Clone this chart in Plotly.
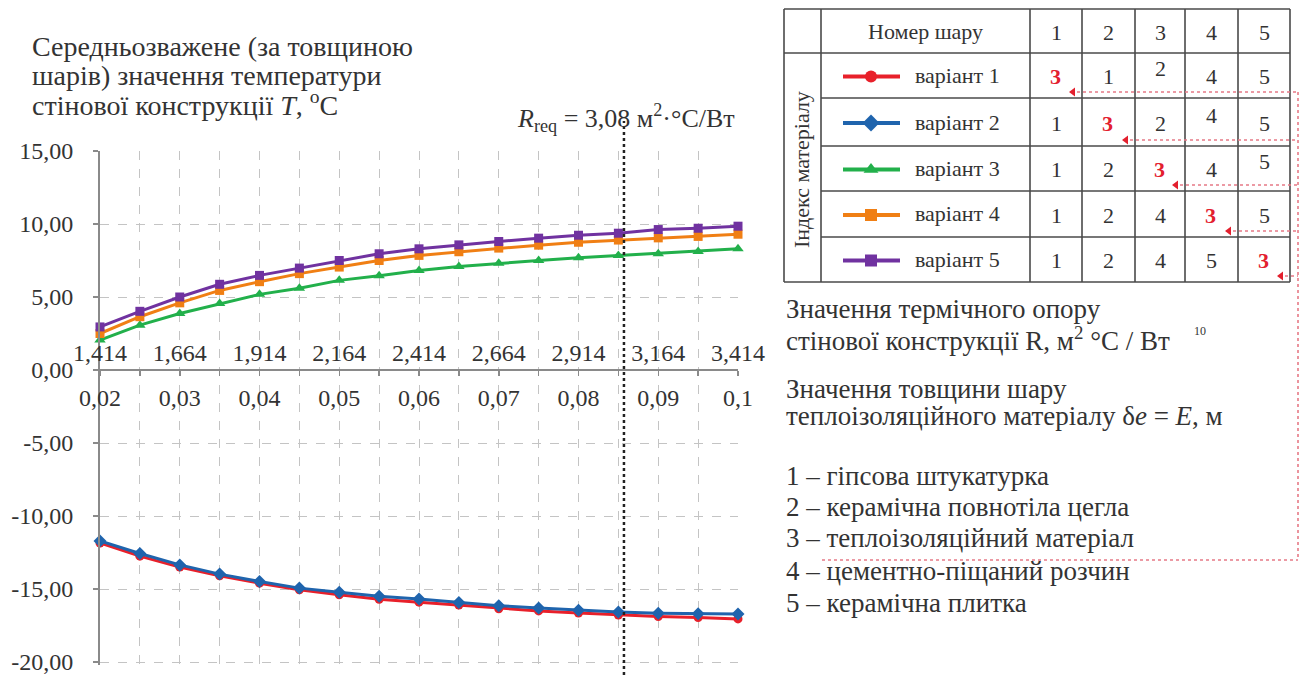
import plotly.graph_objects as go

W, H = 1311, 675

# ---------------- data ----------------
thickness = [0.02, 0.025, 0.03, 0.035, 0.04, 0.045, 0.05, 0.055, 0.06,
             0.065, 0.07, 0.075, 0.08, 0.085, 0.09, 0.095, 0.1]
x_major = [0.02, 0.03, 0.04, 0.05, 0.06, 0.07, 0.08, 0.09, 0.1]
x_major_text = ["0,02", "0,03", "0,04", "0,05", "0,06", "0,07", "0,08", "0,09", "0,1"]
r_text = ["1,414", "1,664", "1,914", "2,164", "2,414", "2,664", "2,914", "3,164", "3,414"]
y_ticks = [15, 10, 5, 0, -5, -10, -15, -20]
y_tick_text = ["15,00", "10,00", "5,00", "0,00", "-5,00", "-10,00", "-15,00", "-20,00"]

variant1 = [-11.85, -12.75, -13.5, -14.1, -14.6, -15.05, -15.4, -15.7, -15.9,
            -16.1, -16.35, -16.5, -16.65, -16.78, -16.88, -16.96, -17.05]
variant2 = [-11.71, -12.57, -13.35, -13.98, -14.49, -14.94, -15.23, -15.5, -15.69,
            -15.92, -16.14, -16.3, -16.45, -16.58, -16.66, -16.7, -16.72]
variant3 = [2.05, 3.07, 3.87, 4.55, 5.18, 5.6, 6.14, 6.45, 6.82,
            7.09, 7.32, 7.5, 7.69, 7.84, 7.96, 8.12, 8.3]
variant4 = [2.5, 3.65, 4.6, 5.45, 6.05, 6.6, 7.05, 7.5, 7.85,
            8.1, 8.35, 8.55, 8.75, 8.9, 9.05, 9.15, 9.3]
variant5 = [2.95, 4.02, 5.0, 5.87, 6.48, 6.98, 7.5, 7.96, 8.3,
            8.57, 8.8, 9.03, 9.23, 9.37, 9.62, 9.71, 9.85]
E_req = 0.0857

variant_names = ["варіант 1", "варіант 2", "варіант 3", "варіант 4", "варіант 5"]
layer_numbers = ["1", "2", "3", "4", "5"]
layer_order = [[3, 1, 2, 4, 5],
               [1, 3, 2, 4, 5],
               [1, 2, 3, 4, 5],
               [1, 2, 4, 3, 5],
               [1, 2, 4, 5, 3]]
materials = ["гіпсова штукатурка", "керамічна повнотіла цегла",
             "теплоізоляційний матеріал", "цементно-піщаний розчин",
             "керамічна плитка"]

# ---------------- styles ----------------
FONT = "Liberation Serif, Times New Roman, serif"
TXT = "#333333"
GRID = "#c4c4c4"
AXIS = "#8a8a8a"
RED_DOT = "#e67a86"
series_style = [
    dict(color="#e8202a", symbol="circle", size=9),
    dict(color="#1f64ad", symbol="diamond", size=10),
    dict(color="#22b04b", symbol="triangle-up", size=10),
    dict(color="#f07f14", symbol="square", size=9),
    dict(color="#7032a0", symbol="square", size=9),
]
series = [variant1, variant2, variant3, variant4, variant5]


def PX(x):
    return x / W


def PY(y):
    return 1 - y / H


y_rng = [-20.2, 15]
px_per_unit = (662 - 151) / 35.0
x_dom = [PX(100), PX(738)]
y_dom = [PY(662 + (-20 - y_rng[0]) * px_per_unit), PY(151)]
p0 = y_dom[0] + (0 - y_rng[0]) / (y_rng[1] - y_rng[0]) * (y_dom[1] - y_dom[0])

fig = go.Figure()

for i in range(5):
    st = series_style[i]
    fig.add_trace(go.Scatter(
        x=thickness, y=series[i], mode="lines+markers", name=variant_names[i],
        line=dict(color=st["color"], width=3),
        marker=dict(color=st["color"], symbol=st["symbol"], size=st["size"]),
        cliponaxis=False, showlegend=False, xaxis="x", yaxis="y"))

# ---------------- table ----------------
col_x = [784, 821, 1030, 1082, 1135, 1185, 1238, 1290]
row_y = [9, 53, 98, 146, 191, 237, 282]
shapes = []
LINE_T = dict(color="#4a4a4a", width=1.6)
for cx in col_x:
    shapes.append(dict(type="line", xref="paper", yref="paper",
                       x0=PX(cx), x1=PX(cx), y0=PY(row_y[0]), y1=PY(row_y[-1]), line=LINE_T))
for k, ry in enumerate(row_y):
    x_start = col_x[0] if k in (0, 1, len(row_y) - 1) else col_x[1]
    shapes.append(dict(type="line", xref="paper", yref="paper",
                       x0=PX(x_start), x1=PX(col_x[-1]), y0=PY(ry), y1=PY(ry), line=LINE_T))

annotations = []


def txt(x, y, s, size, xanchor="center", yanchor="middle", color=TXT, angle=0):
    annotations.append(dict(x=PX(x), y=PY(y), xref="paper", yref="paper", text=s,
                            showarrow=False, xanchor=xanchor, yanchor=yanchor,
                            textangle=angle, font=dict(family=FONT, size=size, color=color)))


TS = 22
txt((col_x[1] + col_x[2]) / 2, (row_y[0] + row_y[1]) / 2, "Номер шару", TS)
for j, n in enumerate(layer_numbers):
    txt((col_x[j + 2] + col_x[j + 3]) / 2, (row_y[0] + row_y[1]) / 2 + 1, n, TS)
txt((col_x[0] + col_x[1]) / 2 - 1, (row_y[1] + row_y[-1]) / 2 + 2, "Індекс матеріалу", TS, angle=-90)

arrow_x, arrow_y = [], []
for r in range(5):
    yc = (row_y[r + 1] + row_y[r + 2]) / 2
    red_col = layer_order[r].index(3)
    for j, v in enumerate(layer_order[r]):
        xc = (col_x[j + 2] + col_x[j + 3]) / 2
        if j == red_col:
            txt(xc - 1, yc + 1, "<b>3</b>", TS, color="#e3202e")
        else:
            dy = -7 if j == red_col + 2 else 1
            txt(xc, yc + dy, str(v), TS)
    txt(913, yc, variant_names[r], TS, xanchor="left")
    st = series_style[r]
    fig.add_trace(go.Scatter(x=[843, 900], y=[yc + 1, yc + 1], mode="lines",
                             line=dict(color=st["color"], width=4),
                             xaxis="x3", yaxis="y3", showlegend=False, hoverinfo="skip"))
    fig.add_trace(go.Scatter(x=[871], y=[yc + 1], mode="markers",
                             marker=dict(color=st["color"], symbol=st["symbol"], size=st["size"] + 3),
                             xaxis="x3", yaxis="y3", showlegend=False, hoverinfo="skip"))
    tip = col_x[red_col + 3] - 9
    ly = row_y[r + 2] - 6
    shapes.append(dict(type="line", xref="paper", yref="paper", x0=PX(tip + 4), x1=PX(1298),
                       y0=PY(ly), y1=PY(ly), line=dict(color=RED_DOT, width=1.6, dash="dot")))
    arrow_x.append(tip)
    arrow_y.append(ly)

fig.add_trace(go.Scatter(x=arrow_x, y=arrow_y, mode="markers",
                         marker=dict(color="#e3202e", symbol="triangle-left", size=8),
                         xaxis="x3", yaxis="y3", showlegend=False, hoverinfo="skip"))
shapes.append(dict(type="line", xref="paper", yref="paper", x0=PX(1298), x1=PX(1298),
                   y0=PY(arrow_y[0]), y1=PY(560), line=dict(color=RED_DOT, width=1.6, dash="dot")))
shapes.append(dict(type="line", xref="paper", yref="paper", x0=PX(822), x1=PX(1298),
                   y0=PY(560), y1=PY(560), line=dict(color=RED_DOT, width=1.6, dash="dot")))

# R_req vertical line
shapes.append(dict(type="line", xref="x", yref="paper", x0=E_req, x1=E_req,
                   y0=0, y1=PY(121), line=dict(color="#222222", width=2.5, dash="dot")))

# ---------------- texts ----------------
BS = 27
txt(30, 46, "Середньозважене (за товщиною", 28, xanchor="left")
txt(30, 75, "шарів) значення температури", 28, xanchor="left")
txt(30, 104, "стінової конструкції <i>T</i>, <sup>o</sup>C", 28, xanchor="left")
txt(626, 118, "<i>R</i><sub>req</sub> = 3,08 м<sup>2</sup>·°C/Вт", 26)

txt(784, 309, "Значення термічного опору", BS, xanchor="left")
txt(784, 339, "стінової конструкції R, м<sup>2</sup> °C / Вт", BS, xanchor="left")
txt(1200, 331, "10", 12)
txt(784, 389, "Значення товщини шару", BS, xanchor="left")
txt(784, 416, "теплоізоляційного матеріалу δ<i>e</i> = <i>E</i>, м", BS, xanchor="left")
list_y = [476, 507, 538, 571, 603]
for k, m in enumerate(materials):
    txt(784, list_y[k], f"{layer_numbers[k]} – {m}", BS, xanchor="left")

fig.update_layout(
    width=W, height=H, autosize=False,
    margin=dict(l=0, r=0, t=0, b=0),
    template="none",
    paper_bgcolor="white", plot_bgcolor="rgba(0,0,0,0)",
    font=dict(family=FONT, size=24, color=TXT),
    showlegend=False, hovermode=False,
    shapes=shapes, annotations=annotations,
    xaxis=dict(domain=x_dom, range=[0.02, 0.1], anchor="free", position=p0,
               tickmode="array", tickvals=x_major, ticktext=x_major_text,
               ticks="outside", ticklen=5, tickcolor=AXIS, tickwidth=1.5,
               ticklabelstandoff=1,
               showline=True, linecolor=AXIS, linewidth=2,
               showgrid=True, gridcolor=GRID, griddash="dash", gridwidth=1,
               minor=dict(tickmode="array", tickvals=thickness, ticks="outside", ticklen=5,
                          tickcolor=AXIS, showgrid=True, gridcolor=GRID, griddash="dash"),
               zeroline=False, automargin=False,
               tickfont=dict(family=FONT, size=24, color=TXT)),
    xaxis2=dict(domain=x_dom, range=[0.02, 0.1], overlaying="x", anchor="free", position=p0,
                side="top", tickmode="array", tickvals=x_major, ticktext=r_text,
                ticks="", showline=False, showgrid=False, zeroline=False,
                ticklabelstandoff=4, automargin=False,
                tickfont=dict(family=FONT, size=24, color=TXT)),
    yaxis=dict(domain=y_dom, range=y_rng, anchor="x",
               tickmode="array", tickvals=y_ticks, ticktext=y_tick_text,
               ticks="outside", ticklen=5, tickcolor=AXIS, tickwidth=1.5,
               ticklabelstandoff=15, ticklabeloverflow="allow",
               showline=True, linecolor=AXIS, linewidth=2,
               showgrid=True, gridcolor=GRID, griddash="dash", gridwidth=1,
               zeroline=False, automargin=False,
               tickfont=dict(family=FONT, size=24, color=TXT)),
    xaxis3=dict(domain=[0, 1], range=[0, W], anchor="y3", visible=False, fixedrange=True),
    yaxis3=dict(domain=[0, 1], range=[H, 0], anchor="x3", visible=False, fixedrange=True),
)

fig.add_trace(go.Scatter(x=[None], y=[None], xaxis="x2", yaxis="y", showlegend=False,
                         hoverinfo="skip"))

fig.write_html("out.html", config={"displayModeBar": False, "staticPlot": True},
               post_script="document.body.style.margin='0';document.body.style.overflow='hidden';")
